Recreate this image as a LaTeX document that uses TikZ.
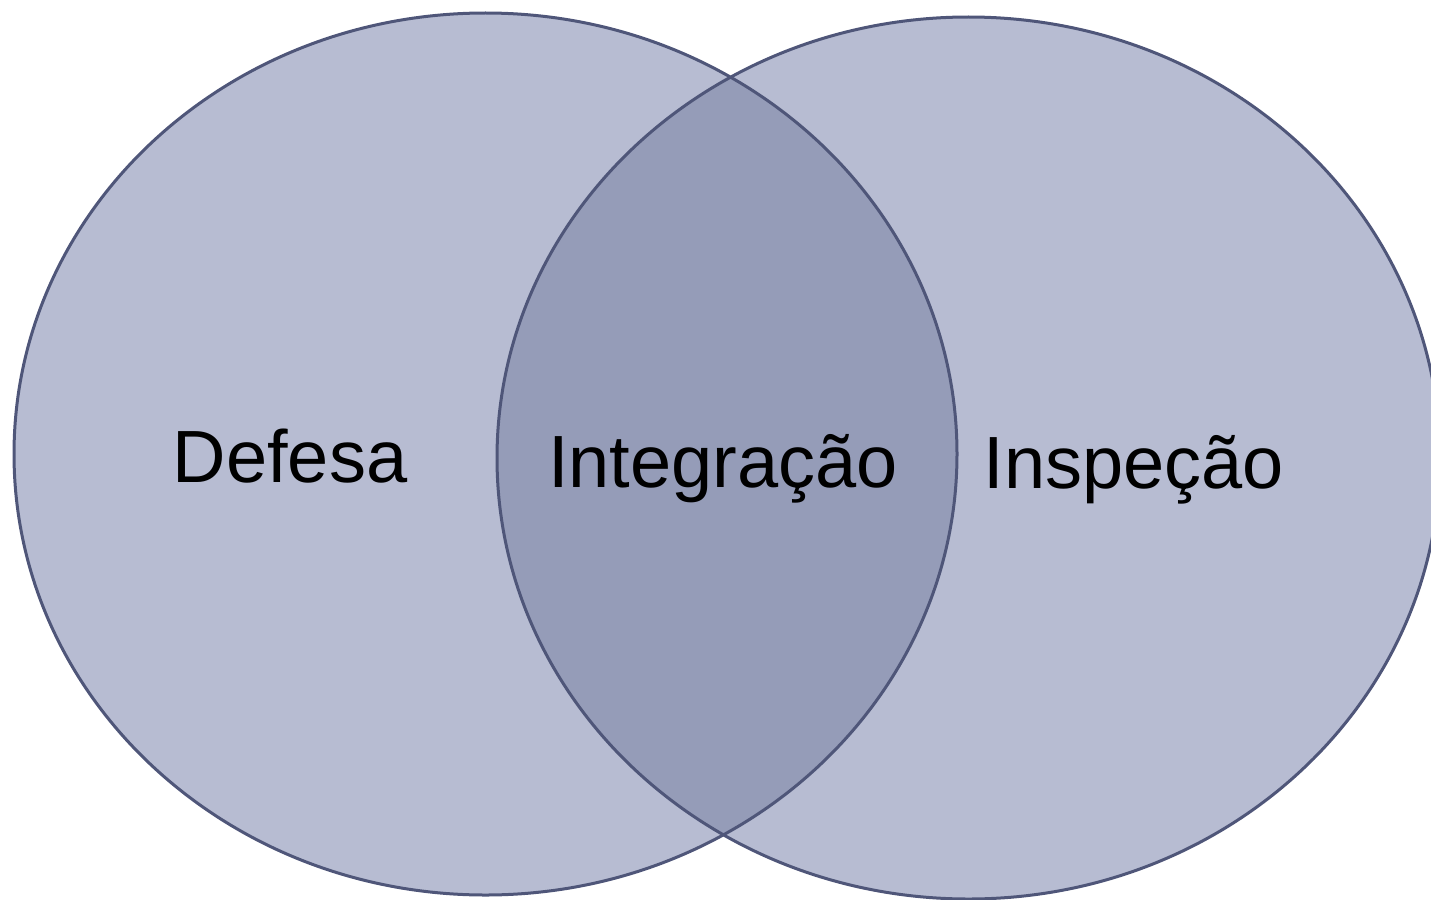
\documentclass[tikz,border=0pt]{standalone}
\usepackage{fontspec}
\setmainfont{Liberation Sans}
\definecolor{vfill}{HTML}{B7BCD2}
\definecolor{vover}{HTML}{959CB8}
\definecolor{vline}{HTML}{4F5679}
\begin{document}
\begin{tikzpicture}[x=1pt,y=-1pt,
  setlabel/.style={anchor=base,inner sep=0pt,font=\fontsize{74}{80}\selectfont,text=black},
  setline/.style={draw=vline,line width=3pt}]
\useasboundingbox (0,0) rectangle (1431,899);
\fill[vfill] (485.5,454) ellipse [x radius=471.5,y radius=441];
\fill[vfill] (968.5,458) ellipse [x radius=471.5,y radius=441];
\begin{scope}
\clip (485.5,454) ellipse [x radius=471.5,y radius=441];
\fill[vover] (968.5,458) ellipse [x radius=471.5,y radius=441];
\end{scope}
\draw[setline] (485.5,454) ellipse [x radius=471.5,y radius=441];
\draw[setline] (968.5,458) ellipse [x radius=471.5,y radius=441];
\node[setlabel] (defesa) at (290,482) {Defesa};
\node[setlabel] (integracao) at (723,487) {Integração};
\node[setlabel] (inspecao) at (1134,488) {Inspeção};
\end{tikzpicture}
\end{document}
